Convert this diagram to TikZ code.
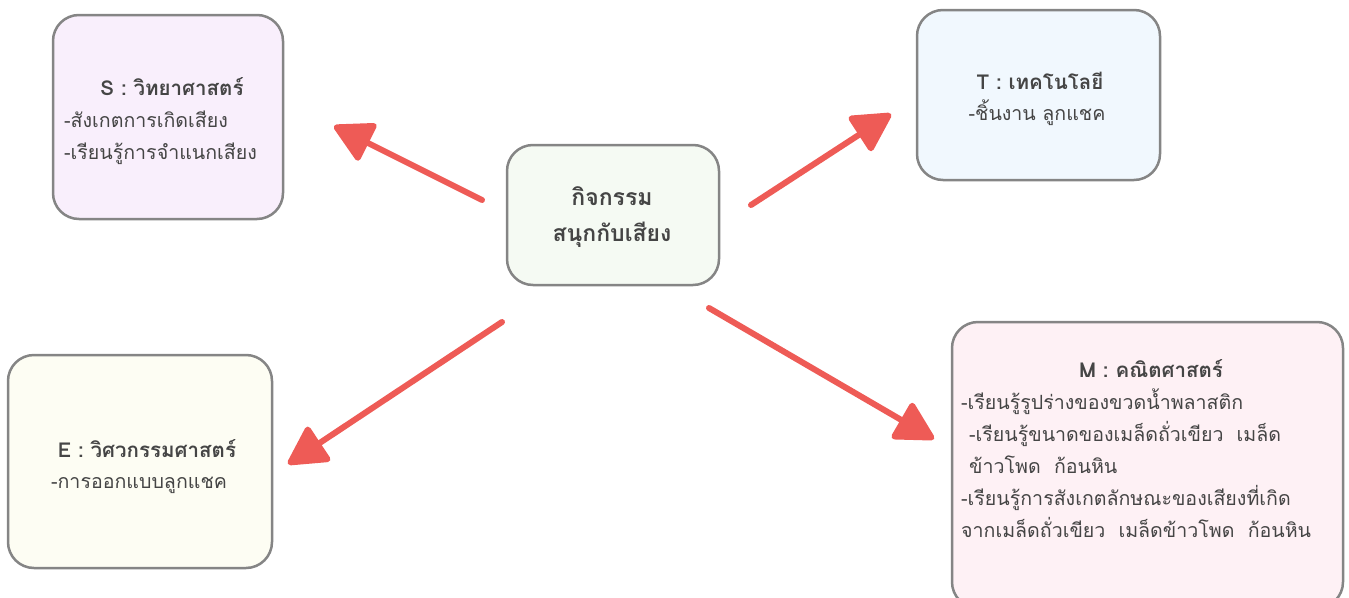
\documentclass[tikz,border=0pt]{standalone}
\usepackage{fontspec}
\setmainfont[Script=Thai]{Loma}
\usetikzlibrary{positioning,arrows.meta}

\definecolor{sfill}{HTML}{F9EFFC}
\definecolor{tfill}{HTML}{F1F8FE}
\definecolor{cfill}{HTML}{F5FAF3}
\definecolor{efill}{HTML}{FDFDF3}
\definecolor{mfill}{HTML}{FEF1F5}
\definecolor{rim}{HTML}{858585}
\definecolor{ink}{HTML}{454545}
\definecolor{pen}{HTML}{EE5B56}

\begin{document}
\begin{tikzpicture}[
  x=1pt, y=-1pt,
  box/.style={draw=rim, line width=2.5pt, rounded corners=26pt},
  head/.style={font=\fontsize{20.5}{32}\selectfont\bfseries, text=ink, inner sep=0pt},
  body/.style={font=\fontsize{19.6}{32}\selectfont, text=ink, inner sep=0pt, align=left},
  sketch/.style={pen, line width=6pt, line cap=round,
    -{Triangle[length=42pt,width=44pt,round]}}
]
\useasboundingbox (0,0) rectangle (1349,597);

% boxes
\node[box, fill=sfill, minimum width=230pt, minimum height=204pt] (sbox) at (168,117) {};
\node[box, fill=tfill, minimum width=243pt, minimum height=170pt] (tbox) at (1038.5,95) {};
\node[box, fill=cfill, minimum width=212pt, minimum height=140pt] (cbox) at (613,215) {};
\node[box, fill=efill, minimum width=264pt, minimum height=213pt] (ebox) at (140,461.5) {};
\node[box, fill=mfill, minimum width=391pt, minimum height=286pt] (mbox) at (1147.5,465) {};

% texts (base = last line)
\node[head, anchor=base] (shead) at (172,95) {S : วิทยาศาสตร์};
\node[body, anchor=base west] (sbody) at (64,159) {-สังเกตการเกิดเสียง\\-เรียนรู้การจำแนกเสียง};

\node[head, anchor=base] (thead) at (1040,89) {T : เทคโนโลยี};
\node[body, anchor=base] (tbody) at (1037,120) {-ชิ้นงาน ลูกแชค};

\node[head, font=\fontsize{23}{36}\selectfont\bfseries, anchor=base, align=center] (chead) at (612,241) {กิจกรรม\\สนุกกับเสียง};

\node[head, anchor=base] (ehead) at (147,457) {E : วิศวกรรมศาสตร์};
\node[body, anchor=base] (ebody) at (139,488) {-การออกแบบลูกแชค};

\node[head, anchor=base] (mhead) at (1151,377) {M : คณิตศาสตร์};
\node[body, anchor=base west] (mbody) at (961,537) {-เรียนรู้รูปร่างของขวดน้ำพลาสติก\\
  \hspace{8pt}-เรียนรู้ขนาดของเมล็ดถั่วเขียว\ \ เมล็ด\\
  \hspace{8pt}ข้าวโพด\ \ ก้อนหิน\\
  -เรียนรู้การสังเกตลักษณะของเสียงที่เกิด\\
  จากเมล็ดถั่วเขียว\ \ เมล็ดข้าวโพด\ \ ก้อนหิน};

% arrow ends
\coordinate (s0) at (482,200);
\coordinate (s1) at (334,126);
\coordinate (t0) at (751,205);
\coordinate (t1) at (891,114);
\coordinate (e0) at (502,322);
\coordinate (e1) at (288,464);
\coordinate (m0) at (709,308);
\coordinate (m1) at (934,439);

\path
(s0) edge[sketch] (s1) %
(t0) edge[sketch] (t1) %
(e0) edge[sketch] (e1) %
(m0) edge[sketch] (m1) %
;

\end{tikzpicture}
\end{document}
